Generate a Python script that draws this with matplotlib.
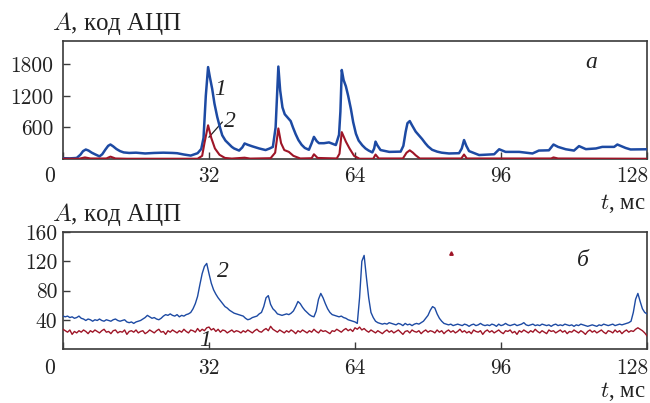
import numpy as np
import matplotlib
matplotlib.use("Agg")
import matplotlib.pyplot as plt
import matplotlib.transforms as mtransforms

plt.rcParams['font.family'] = ['cmr10', 'Liberation Serif']
plt.rcParams['mathtext.fontset'] = 'cm'
plt.rcParams['axes.formatter.use_mathtext'] = True

# ---------------- data: panel a ----------------
t_a_blue = [0, 1.5, 3.0, 3.8, 4.4, 5.0, 5.6, 6.3, 7.0, 8.0, 8.6, 9.3, 9.9, 10.4, 11.0, 11.7, 12.5, 13.3,
            14.5, 16, 18, 20, 22, 24, 25, 26.5, 28, 29.5, 30.3, 30.8, 31.3, 31.8, 32.2, 32.7, 33.2, 33.8,
            34.4, 34.9, 35.6, 36.3, 37.0, 37.5, 38.6, 39.3, 39.8, 40.5, 41.5, 43.0, 44.4, 45.3, 46.0,
            46.6, 47.2, 47.6, 48.1, 48.6, 49.2, 49.9, 50.4, 51.0, 51.6, 52.3, 53.0, 53.9, 54.5, 55.0,
            55.6, 56.1, 57.2, 58.3, 59.8, 60.5, 60.8, 61.1, 61.5, 62.0, 62.5, 63.1, 63.6, 64.2, 64.8,
            65.6, 66.3, 67.0, 67.8, 68.2, 68.5, 68.9, 69.6, 71.5, 74.0, 74.6, 75.1, 75.5, 76.0, 76.5,
            77.3, 78.0, 78.7, 79.4, 80.0, 80.9, 82.0, 83.0, 84.6, 86.8, 87.4, 87.9, 88.4, 89.0, 91.2,
            94.5, 95.6, 97.0, 100.0, 102.9, 104.3, 106.5, 107.5, 108.5, 110.2, 112.0, 113.1, 114.6,
            116.8, 118.2, 120.8, 121.5, 123.3, 124.4, 127.3, 128]
v_a_blue = [15, 12, 20, 80, 150, 180, 160, 120, 90, 50, 90, 180, 250, 275, 240, 190, 150, 125,
            115, 120, 105, 115, 120, 115, 110, 85, 65, 110, 190, 400, 1200, 1745, 1550, 1330, 1050, 800,
            600, 450, 350, 290, 230, 200, 160, 220, 295, 270, 240, 200, 170, 200, 230,
            600, 1755, 1300, 980, 850, 790, 720, 600, 470, 360, 270, 210, 175, 300, 420,
            340, 300, 300, 315, 265, 460, 900, 1690, 1500, 1380, 1200, 950, 700, 480, 350,
            260, 200, 160, 125, 200, 330, 260, 170, 135, 140, 250, 515, 680, 720, 640,
            520, 450, 380, 300, 240, 175, 140, 120, 105, 110, 200, 360, 250, 150, 75,
            90, 185, 135, 135, 105, 160, 165, 275, 230, 185, 160, 245, 187,
            200, 230, 230, 275, 210, 181, 185, 185]

t_a_red = [0, 3.5, 4.8, 6, 9.5, 10.4, 11.5, 14, 29.5, 30.5, 31.0, 31.8, 32.5, 33.3, 34.3, 35.5, 37,
           39.8, 41, 45.5, 46.5, 47.2, 47.8, 48.5, 49.5, 50.5, 52, 54.5, 55.0, 55.8, 60, 60.6, 61.1,
           62.0, 62.8, 63.8, 65, 68, 68.5, 69.2, 74.5, 75.3, 76.0, 76.7, 77.3, 78.2, 87.3, 87.9, 88.5,
           107, 107.5, 108.5, 128]
v_a_red = [5, 5, 30, 10, 10, 45, 10, 5, 5, 60, 300, 640, 400, 200, 80, 20, 8,
           25, 8, 15, 120, 580, 300, 170, 135, 60, 10, 15, 90, 20, 10, 100, 510,
           330, 200, 60, 5, 5, 85, 10, 10, 120, 165, 120, 70, 10, 10, 85, 10,
           10, 30, 10, 5]

# ---------------- data: panel б (sampled every 0.5 ms) ----------------
t_b = np.arange(0, 128.5, 0.5)
v_b_blue = [45, 44, 45, 43, 44, 42, 43, 45, 42, 41, 39, 41, 40, 38, 40, 39,
            41, 39, 38, 40, 39, 38, 40, 41, 39, 38, 39, 40, 37, 36, 37, 35,
            37, 38, 39, 41, 43, 46, 44, 42, 43, 41, 40, 42, 45, 47, 46, 48,
            46, 45, 47, 44, 46, 45, 47, 48, 50, 55, 62, 72, 88, 103, 113, 117,
            103, 90, 81, 75, 70, 66, 62, 58, 56, 53, 51, 49, 48, 47, 46, 45,
            42, 40, 41, 43, 44, 45, 48, 50, 58, 70, 73, 61, 55, 52, 48, 47,
            46, 47, 48, 47, 49, 52, 58, 65, 62, 57, 53, 50, 47, 45, 44, 52,
            68, 76, 70, 62, 55, 50, 47, 46, 45, 44, 45, 43, 42, 40, 39, 38,
            37, 35, 70, 120, 128, 98, 70, 50, 43, 38, 36, 35, 34, 35, 34, 36,
            35, 34, 33, 35, 34, 32, 35, 33, 34, 32, 34, 35, 34, 36, 38, 42,
            46, 53, 58, 56, 48, 42, 38, 35, 34, 33, 34, 32, 33, 34, 33, 32,
            34, 33, 31, 33, 34, 32, 33, 35, 33, 32, 33, 32, 34, 33, 31, 34,
            32, 33, 35, 33, 32, 33, 34, 32, 33, 34, 36, 33, 32, 33, 34, 32,
            33, 32, 34, 33, 32, 33, 31, 33, 34, 32, 33, 32, 34, 33, 32, 33,
            31, 33, 32, 34, 33, 32, 31, 32, 33, 32, 31, 33, 32, 34, 33, 32,
            33, 34, 32, 33, 34, 33, 34, 35, 36, 38, 50, 68, 76, 65, 55, 50,
            48]
v_b_red = [27, 25, 23, 26, 20, 24, 22, 25, 23, 26, 24, 21, 25, 23, 26, 24,
           22, 25, 27, 23, 24, 21, 25, 26, 22, 24, 23, 26, 20, 24, 25, 23,
           26, 22, 24, 25, 21, 23, 26, 24, 22, 25, 27, 23, 24, 20, 25, 23,
           26, 24, 22, 25, 23, 27, 24, 22, 26, 25, 23, 28, 24, 27, 25, 29,
           30, 26, 28, 24, 27, 23, 26, 25, 22, 24, 26, 23, 25, 24, 22, 25,
           23, 26, 24, 22, 25, 27, 24, 23, 26, 28, 25, 31, 27, 25, 23, 26,
           24, 22, 25, 23, 26, 24, 21, 25, 23, 26, 24, 22, 25, 23, 27, 24,
           22, 26, 24, 25, 23, 21, 25, 24, 27, 25, 23, 26, 28, 25, 27, 24,
           29, 27, 30, 26, 28, 25, 23, 26, 24, 22, 25, 23, 21, 24, 26, 23,
           25, 22, 24, 26, 23, 20, 24, 25, 22, 26, 24, 23, 25, 21, 24, 26,
           23, 25, 24, 22, 26, 23, 25, 21, 24, 26, 23, 25, 22, 24, 27, 23,
           25, 22, 24, 21, 26, 24, 23, 25, 20, 24, 26, 23, 25, 22, 24, 26,
           23, 21, 25, 24, 26, 22, 24, 20, 25, 23, 26, 24, 22, 25, 23, 27,
           24, 22, 25, 23, 21, 26, 24, 25, 22, 24, 26, 23, 25, 21, 24, 23,
           26, 24, 22, 25, 23, 20, 24, 26, 23, 25, 22, 24, 26, 23, 21, 25,
           24, 22, 26, 23, 25, 21, 24, 26, 23, 25, 24, 27, 29, 27, 25, 22,
           18]
stray_t = [85.0]
stray_v = [131]

x_ticks = [0, 32, 64, 96, 128]
x_ticklabels = ['0', '32', '64', '96', '128']
y_ticks_a = [600, 1200, 1800]
y_ticks_b = [40, 80, 120, 160]

BLUE = '#1d4aa3'
RED = '#9e1527'
FRAME = '#3a3a3a'
TXT = '#222222'
FS = 15.5

fig = plt.figure(figsize=(6.5, 4.03), dpi=100)
ax1 = fig.add_axes([63/650, 1-159/403, (647-63)/650, (159-41)/403])
ax2 = fig.add_axes([63/650, 1-349/403, (647-63)/650, (349-232)/403])

ax1.plot(t_a_blue, v_a_blue, color=BLUE, lw=1.8, zorder=3, solid_joinstyle='round')
ax1.plot(t_a_red, v_a_red, color=RED, lw=1.5, zorder=4, solid_joinstyle='round')
ax1.set_ylim(0, 2240)
ax1.set_yticks(y_ticks_a)
ax1.set_yticklabels([str(v) for v in y_ticks_a])

ax2.plot(t_b, v_b_blue, color=BLUE, lw=1.0, zorder=3)
ax2.plot(t_b, v_b_red, color=RED, lw=1.0, zorder=4)
ax2.plot(stray_t, stray_v, marker='^', ms=2.5, color=RED, ls='none')
ax2.set_ylim(0, 160)
ax2.set_yticks(y_ticks_b)
ax2.set_yticklabels([str(v) for v in y_ticks_b])

for ax, ypad, xpad in ((ax1, 7, 5.5), (ax2, 4, 7)):
    ax.set_xlim(0, 128)
    ax.set_xticks(x_ticks)
    ax.set_xticklabels(x_ticklabels)
    ax.tick_params(direction='in', length=5, width=1, color=FRAME,
                   labelsize=FS, labelcolor=TXT)
    ax.tick_params(axis='y', pad=ypad)
    ax.tick_params(axis='x', pad=xpad)
    for s in ax.spines.values():
        s.set_color(FRAME)
        s.set_linewidth(1.2)
    labs = ax.get_xticklabels()
    labs[0].set_transform(labs[0].get_transform() +
                          mtransforms.ScaledTranslation(-13/100, 0, fig.dpi_scale_trans))
    labs[-1].set_transform(labs[-1].get_transform() +
                           mtransforms.ScaledTranslation(-15/100, 0, fig.dpi_scale_trans))

# axis titles
ttl = dict(family=['Liberation Serif'], va='baseline', color=TXT)
fig.text(52/650, 1-30/403, r'$A$, код АЦП', ha='left', fontsize=18, **ttl)
fig.text(52/650, 1-221/403, r'$A$, код АЦП', ha='left', fontsize=18, **ttl)
fig.text(646/650, 1-209/403, r'$t$, мс', ha='right', fontsize=16.5, **ttl)
fig.text(646/650, 1-397/403, r'$t$, мс', ha='right', fontsize=16.5, **ttl)

ital = dict(family=['Liberation Serif'], style='italic', fontsize=17, color=TXT,
            ha='center', va='center')
ax1.text(34.4, 1310, '1', **ital)
ax1.text(36.6, 720, '2', **ital)
ax1.plot([32.0, 34.9], [415, 700], color=TXT, lw=0.9)
ax1.text(115.7, 1825, 'a', **ital)
ax2.text(35.1, 106, '2', **ital)
ax2.text(31.2, 11, '1', **ital)
ax2.text(114.0, 121, 'б', **ital)

fig.savefig('out.png', dpi=100)
